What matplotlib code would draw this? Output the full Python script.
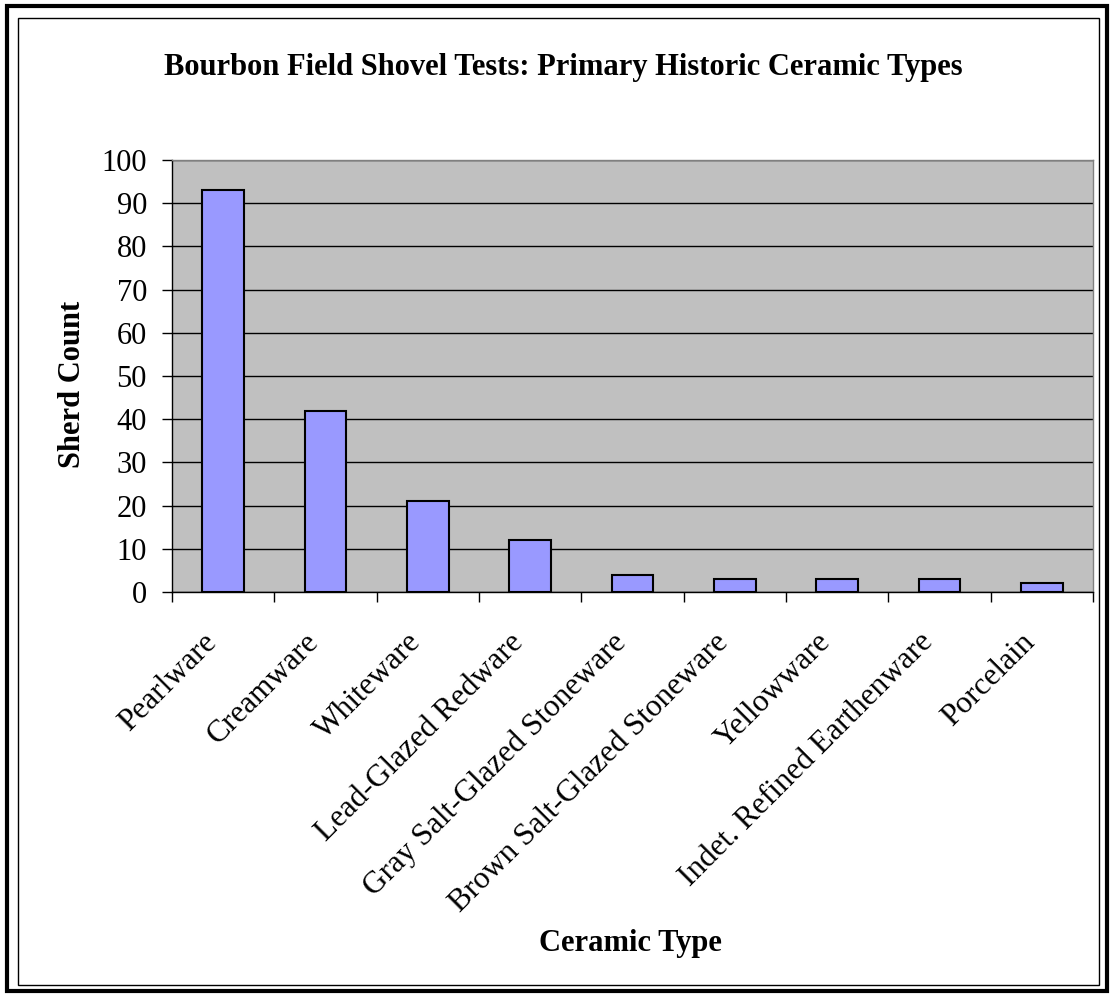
import matplotlib
matplotlib.use("Agg")
import matplotlib.pyplot as plt
from matplotlib.patches import Rectangle
from matplotlib.transforms import ScaledTranslation

categories = ["Pearlware", "Creamware", "Whiteware", "Lead-Glazed Redware",
              "Gray Salt-Glazed Stoneware", "Brown Salt-Glazed Stoneware",
              "Yellowware", "Indet. Refined Earthenware", "Porcelain"]
counts = [93, 42, 21, 12, 4, 3, 3, 3, 2]
y_ticks = list(range(0, 101, 10))

plt.rcParams["font.family"] = ["Liberation Serif", "DejaVu Serif"]

W, H = 1113, 997
fig = plt.figure(figsize=(W / 100, H / 100), dpi=100)

# Outer heavy frame and inner thin frame
fig.patches.append(Rectangle((6.5 / W, 1 - 990.5 / H), (1106.5 - 6.5) / W, (990.5 - 6.5) / H,
                             transform=fig.transFigure, fill=False, lw=3, ec="black"))
fig.patches.append(Rectangle((18 / W, 1 - 985 / H), (1099 - 18) / W, (985 - 18) / H,
                             transform=fig.transFigure, fill=False, lw=1, ec="black"))

ax = fig.add_axes([172 / W, 1 - 592 / H, (1093 - 172) / W, (592 - 160) / H])
ax.set_facecolor("#c0c0c0")

x = list(range(len(categories)))
ax.bar(x, counts, width=0.41, color="#9999ff", edgecolor="black", linewidth=1.5, zorder=3)

ax.set_xlim(-0.5, len(categories) - 0.5)
ax.set_ylim(0, 100)
ax.set_yticks(y_ticks)
ax.yaxis.grid(True, color="black", linewidth=1, zorder=1)
ax.set_axisbelow(True)

# Tick marks sit between categories; labels are placed at the category centres
ax.set_xticks([i + 0.5 for i in range(-1, len(categories))])
ax.set_xticklabels([])
ax.tick_params(axis="x", length=7, width=1, direction="out", color="black")
ax.tick_params(axis="y", length=7, width=1, direction="out", labelsize=22, pad=11)

label_offset = ScaledTranslation(-11 / 100, -46 / 100, fig.dpi_scale_trans)
for xi, name in zip(x, categories):
    ax.text(xi, 0, name, transform=ax.get_xaxis_transform() + label_offset,
            rotation=45, rotation_mode="anchor", ha="right", va="center",
            fontsize=22.5)

for side in ["left", "bottom"]:
    ax.spines[side].set_color("black")
    ax.spines[side].set_linewidth(1)
for side in ["top", "right"]:
    ax.spines[side].set_color("#808080")
    ax.spines[side].set_linewidth(1)

fig.text(72 / W, 1 - 384 / H, "Sherd Count", fontsize=22, fontweight="bold",
         rotation=90, ha="center", va="center")
fig.text(630 / W, 1 - 943 / H, "Ceramic Type", fontsize=22, fontweight="bold",
         ha="center", va="center")
fig.text(563 / W, 1 - 68 / H, "Bourbon Field Shovel Tests: Primary Historic Ceramic Types",
         fontsize=22, fontweight="bold", ha="center", va="center")

fig.savefig("out.png", dpi=100)
